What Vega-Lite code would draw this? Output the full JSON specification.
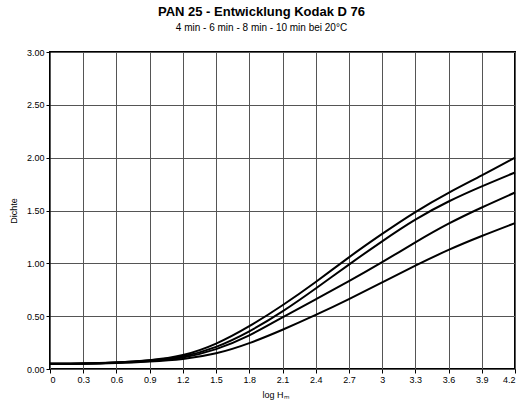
{
  "$schema": "https://vega.github.io/schema/vega-lite/v6.json",
  "width": 465,
  "height": 317,
  "autosize": "none",
  "padding": {"left": 50, "top": 52, "right": 6, "bottom": 41},
  "background": "white",
  "title": {
    "text": "PAN 25 - Entwicklung Kodak D 76",
    "subtitle": "4 min - 6 min - 8 min - 10 min bei 20°C",
    "anchor": "middle",
    "dx": -21,
    "offset": 15,
    "font": "Liberation Sans",
    "fontSize": 13,
    "fontWeight": "bold",
    "color": "#000",
    "subtitleFont": "Liberation Sans",
    "subtitleFontSize": 10,
    "subtitleColor": "#000",
    "subtitlePadding": 4
  },
  "config": {
    "view": {"stroke": "#000", "strokeWidth": 2},
    "axis": {
      "labelFont": "Liberation Sans",
      "labelFontSize": 9,
      "labelColor": "#000",
      "titleFont": "Liberation Sans",
      "titleFontSize": 9,
      "titleFontWeight": "normal",
      "titleColor": "#000",
      "gridColor": "#555",
      "gridWidth": 1,
      "gridOpacity": 1,
      "domain": false,
      "tickColor": "#000",
      "tickSize": 4
    }
  },
  "data": {
    "values": [
      {"t": "10 min", "x": 0, "d": 0.05}, {"t": "10 min", "x": 0.3, "d": 0.05}, {"t": "10 min", "x": 0.6, "d": 0.06}, {"t": "10 min", "x": 0.9, "d": 0.08}, {"t": "10 min", "x": 1.2, "d": 0.12}, {"t": "10 min", "x": 1.5, "d": 0.23}, {"t": "10 min", "x": 1.8, "d": 0.40}, {"t": "10 min", "x": 2.1, "d": 0.60}, {"t": "10 min", "x": 2.4, "d": 0.82}, {"t": "10 min", "x": 2.7, "d": 1.06}, {"t": "10 min", "x": 3.0, "d": 1.28}, {"t": "10 min", "x": 3.3, "d": 1.49}, {"t": "10 min", "x": 3.6, "d": 1.67}, {"t": "10 min", "x": 3.9, "d": 1.83}, {"t": "10 min", "x": 4.2, "d": 2.00},
      {"t": "8 min", "x": 0, "d": 0.05}, {"t": "8 min", "x": 0.3, "d": 0.05}, {"t": "8 min", "x": 0.6, "d": 0.06}, {"t": "8 min", "x": 0.9, "d": 0.08}, {"t": "8 min", "x": 1.2, "d": 0.11}, {"t": "8 min", "x": 1.5, "d": 0.20}, {"t": "8 min", "x": 1.8, "d": 0.35}, {"t": "8 min", "x": 2.1, "d": 0.54}, {"t": "8 min", "x": 2.4, "d": 0.76}, {"t": "8 min", "x": 2.7, "d": 0.99}, {"t": "8 min", "x": 3.0, "d": 1.21}, {"t": "8 min", "x": 3.3, "d": 1.42}, {"t": "8 min", "x": 3.6, "d": 1.59}, {"t": "8 min", "x": 3.9, "d": 1.73}, {"t": "8 min", "x": 4.2, "d": 1.86},
      {"t": "6 min", "x": 0, "d": 0.05}, {"t": "6 min", "x": 0.3, "d": 0.05}, {"t": "6 min", "x": 0.6, "d": 0.06}, {"t": "6 min", "x": 0.9, "d": 0.075}, {"t": "6 min", "x": 1.2, "d": 0.10}, {"t": "6 min", "x": 1.5, "d": 0.18}, {"t": "6 min", "x": 1.8, "d": 0.31}, {"t": "6 min", "x": 2.1, "d": 0.49}, {"t": "6 min", "x": 2.4, "d": 0.66}, {"t": "6 min", "x": 2.7, "d": 0.83}, {"t": "6 min", "x": 3.0, "d": 1.01}, {"t": "6 min", "x": 3.3, "d": 1.20}, {"t": "6 min", "x": 3.6, "d": 1.38}, {"t": "6 min", "x": 3.9, "d": 1.53}, {"t": "6 min", "x": 4.2, "d": 1.67},
      {"t": "4 min", "x": 0, "d": 0.05}, {"t": "4 min", "x": 0.3, "d": 0.05}, {"t": "4 min", "x": 0.6, "d": 0.055}, {"t": "4 min", "x": 0.9, "d": 0.07}, {"t": "4 min", "x": 1.2, "d": 0.09}, {"t": "4 min", "x": 1.5, "d": 0.14}, {"t": "4 min", "x": 1.8, "d": 0.24}, {"t": "4 min", "x": 2.1, "d": 0.37}, {"t": "4 min", "x": 2.4, "d": 0.51}, {"t": "4 min", "x": 2.7, "d": 0.66}, {"t": "4 min", "x": 3.0, "d": 0.82}, {"t": "4 min", "x": 3.3, "d": 0.98}, {"t": "4 min", "x": 3.6, "d": 1.13}, {"t": "4 min", "x": 3.9, "d": 1.26}, {"t": "4 min", "x": 4.2, "d": 1.38}
    ]
  },
  "mark": {"type": "line", "interpolate": "basis", "color": "#000", "strokeWidth": 2},
  "encoding": {
    "x": {
      "field": "x",
      "type": "quantitative",
      "scale": {"domain": [0, 4.2], "nice": false, "zero": false},
      "axis": {
        "title": "log Hₘ",
        "titleAnchor": "start",
        "titleX": 212,
        "titlePadding": 6,
        "values": [0, 0.3, 0.6, 0.9, 1.2, 1.5, 1.8, 2.1, 2.4, 2.7, 3.0, 3.3, 3.6, 3.9, 4.2],
        "format": ".1~f",
        "labelPadding": 2
      }
    },
    "y": {
      "field": "d",
      "type": "quantitative",
      "scale": {"domain": [0, 3], "nice": false},
      "axis": {
        "title": "Dichte",
        "titlePadding": 8,
        "values": [0, 0.5, 1, 1.5, 2, 2.5, 3],
        "format": ".2f",
        "labelPadding": 2
      }
    },
    "detail": {"field": "t", "type": "nominal"}
  }
}
